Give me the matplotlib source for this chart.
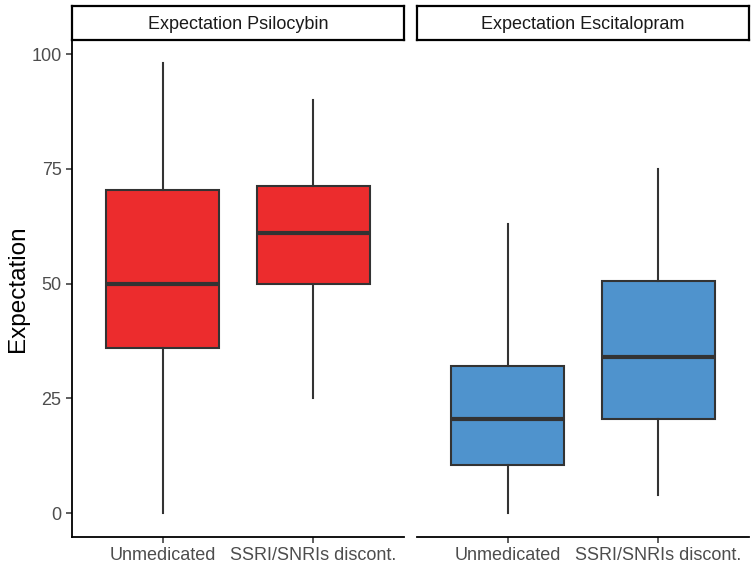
import matplotlib
matplotlib.use("Agg")
import matplotlib.pyplot as plt

plt.rcParams['font.family'] = ['Liberation Sans', 'DejaVu Sans']

# data (Tukey box stats)
groups = ['Unmedicated', 'SSRI/SNRIs discont.']
panels = ['Expectation Psilocybin', 'Expectation Escitalopram']
colors = ['#EC2C2D', '#4F93CD']
whislo = [[0, 25], [0, 4]]
q1 = [[36, 50], [10.5, 20.5]]
med = [[50, 61], [20.5, 34]]
q3 = [[70.5, 71.3], [32, 50.5]]
whishi = [[98, 90], [63, 75]]

W, H = 755, 566
fig = plt.figure(figsize=(W / 100, H / 100), dpi=100)

panel_x = [72, 417]
panel_w = 332
top, bottom = 40, 537
strip_top = 6

for p in range(2):
    ax = fig.add_axes([panel_x[p] / W, 1 - bottom / H, panel_w / W, (bottom - top) / H])
    stats = []
    for g in range(2):
        stats.append(dict(whislo=whislo[p][g], q1=q1[p][g], med=med[p][g],
                          q3=q3[p][g], whishi=whishi[p][g], fliers=[]))
    ax.bxp(stats, positions=[1, 2], widths=0.75, showcaps=False, patch_artist=True,
           boxprops=dict(facecolor=colors[p], edgecolor='#333333', linewidth=1.5),
           medianprops=dict(color='#333333', linewidth=3),
           whiskerprops=dict(color='#333333', linewidth=1.5))
    ax.set_xlim(0.4, 2.6)
    ax.set_ylim(-5.2, 103.1)
    ax.set_xticks([1, 2])
    ax.set_xticklabels(groups, fontsize=13, color='#4D4D4D')
    ax.set_yticks([0, 25, 50, 75, 100])
    for s in ['top', 'right']:
        ax.spines[s].set_visible(False)
    ax.spines['bottom'].set_linewidth(1.3)
    ax.spines['left'].set_linewidth(1.3)
    ax.tick_params(axis='both', length=4, width=1.1, color='#333333')
    ax.tick_params(axis='y', labelsize=13, labelcolor='#4D4D4D')
    if p == 0:
        ax.set_ylabel('Expectation', fontsize=17.5, labelpad=2)
    else:
        ax.spines['left'].set_visible(False)
        ax.tick_params(axis='y', left=False, labelleft=False)

    # facet strip
    sax = fig.add_axes([panel_x[p] / W, 1 - top / H, panel_w / W, (top - strip_top) / H])
    sax.set_xticks([])
    sax.set_yticks([])
    for s in sax.spines.values():
        s.set_linewidth(1.6)
    sax.text(0.5, 0.47, panels[p], ha='center', va='center', fontsize=13, color='#1A1A1A',
             transform=sax.transAxes)

fig.savefig('out.png', dpi=100)
